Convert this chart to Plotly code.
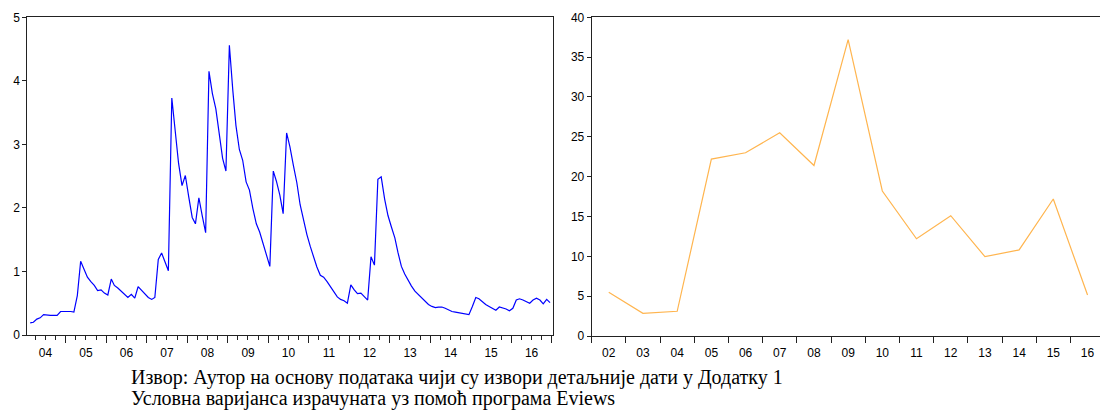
import pandas as pd
import plotly.graph_objects as go

# ---------------- data ----------------
# Left panel: monthly conditional variance, Feb 2004 - Dec 2016
months = pd.period_range("2004-02", "2016-12", freq="M")
variance = [
    # 2004 Feb-Dec
    0.19, 0.20, 0.25, 0.27, 0.32, 0.31, 0.31, 0.31, 0.31, 0.37, 0.37,
    # 2005
    0.38, 0.37, 0.36, 0.62, 1.16, 1.04, 0.91, 0.84, 0.78, 0.70, 0.71, 0.66,
    # 2006
    0.63, 0.88, 0.78, 0.74, 0.69, 0.63, 0.59, 0.64, 0.58, 0.76, 0.70, 0.64,
    # 2007
    0.59, 0.56, 0.59, 1.19, 1.29, 1.15, 1.01, 3.73, 3.15, 2.70, 2.35, 2.51,
    # 2008
    2.17, 1.85, 1.75, 2.16, 1.88, 1.61, 4.15, 3.80, 3.56, 3.17, 2.78, 2.58,
    # 2009
    4.56, 3.85, 3.30, 2.92, 2.75, 2.41, 2.28, 1.99, 1.75, 1.62, 1.43, 1.25,
    # 2010
    1.08, 2.58, 2.42, 2.20, 1.91, 3.18, 2.96, 2.67, 2.40, 2.05, 1.80, 1.58,
    # 2011
    1.39, 1.22, 1.07, 0.94, 0.91, 0.84, 0.76, 0.69, 0.60, 0.56, 0.54, 0.50,
    # 2012
    0.79, 0.71, 0.65, 0.66, 0.61, 0.55, 1.23, 1.10, 2.45, 2.49, 2.14, 1.88,
    # 2013
    1.70, 1.53, 1.30, 1.08, 0.96, 0.86, 0.77, 0.69, 0.64, 0.58, 0.53, 0.48,
    # 2014
    0.45, 0.43, 0.44, 0.44, 0.42, 0.39, 0.37, 0.36, 0.35, 0.34, 0.33, 0.32,
    # 2015
    0.45, 0.59, 0.57, 0.52, 0.48, 0.45, 0.42, 0.39, 0.44, 0.43, 0.41, 0.38,
    # 2016
    0.42, 0.55, 0.57, 0.55, 0.52, 0.50, 0.55, 0.58, 0.55, 0.49, 0.56, 0.51,
]

# Right panel: annual series 2002-2016
years = list(range(2002, 2017))
annual = [5.48, 2.85, 3.10, 22.2, 23.0, 25.5, 21.4, 37.2, 18.2, 12.2,
          15.1, 9.96, 10.8, 17.2, 5.15]

caption_lines = [
    "Извор: Аутор на основу података чији су извори детаљније дати у Додатку 1",
    "Условна варијанса израчуната уз помоћ програма Eviews",
]

# ---------------- figure ----------------
W, H = 1100, 410
month_mid = [(p.start_time + pd.Timedelta(days=14)) for p in months]
year_mid = [pd.Timestamp(f"{y}-07-02") for y in years]

fig = go.Figure()
fig.add_trace(go.Scatter(x=month_mid, y=variance, mode="lines",
                         line=dict(color="#0000FF", width=1.2),
                         xaxis="x", yaxis="y", showlegend=False))
fig.add_trace(go.Scatter(x=year_mid, y=annual, mode="lines",
                         line=dict(color="#FFB54F", width=1.2),
                         xaxis="x2", yaxis="y2", showlegend=False))

tickfont = dict(family="Liberation Sans, Arial", size=12, color="#000000")
axis_common = dict(showgrid=False, zeroline=False, linecolor="#222222",
                   linewidth=1, ticks="outside", tickcolor="#222222",
                   tickfont=tickfont, automargin=False)

def px_x(p):
    return p / W

def px_y(p):
    return 1 - p / H

fig.update_layout(
    width=W, height=H,
    margin=dict(l=0, r=0, t=0, b=0),
    paper_bgcolor="white", plot_bgcolor="white",
    xaxis=dict(**axis_common, type="date", domain=[px_x(27.3), px_x(553)],
               range=["2004-01-20", "2017-01-11"], anchor="y",
               dtick="M12", tick0="2004-01-01", ticklabelmode="period",
               tickformat="%y", ticklen=7, mirror=True,
               minor=dict(dtick="M3", ticklen=4, ticks="outside",
                          tickcolor="#222222", showgrid=False)),
    yaxis=dict(**axis_common, domain=[px_y(335), px_y(17.3)], range=[0, 5],
               dtick=1, ticklen=4, anchor="x", mirror=True),
    xaxis2=dict(**axis_common, type="date", domain=[px_x(591.7), 1],
                range=["2002-01-01", "2016-11-12"], anchor="y2",
                dtick="M12", tick0="2002-01-01", ticklabelmode="period",
                tickformat="%y", ticklen=6, mirror=True),
    yaxis2=dict(**axis_common, domain=[px_y(336), px_y(17.3)], range=[0, 40],
                dtick=5, ticklen=4, anchor="x2"),
)

for i, line in enumerate(caption_lines):
    fig.add_annotation(text=line, xref="paper", yref="paper",
                       x=px_x(129), y=px_y(377.5 + 21 * i),
                       xanchor="left", yanchor="middle", showarrow=False,
                       font=dict(family="Liberation Serif, Times New Roman",
                                 size=20, color="#000000"))

fig.write_html("out.html",
               config={"displayModeBar": False},
               post_script="document.body.style.margin='0';"
                           "document.body.style.overflow='hidden';")
